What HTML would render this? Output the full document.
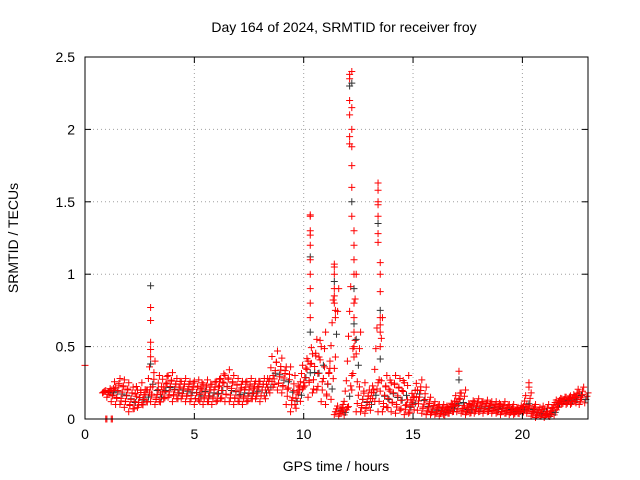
<!DOCTYPE html>
<html><head><meta charset="utf-8"><style>
body{margin:0;background:#fff}
svg{display:block;font-family:"Liberation Sans",sans-serif}
</style></head><body>
<svg id="chart" width="640" height="480" viewBox="0 0 640 480">
<rect width="640" height="480" fill="#fff"/>
<text x="344" y="32" font-size="14" text-anchor="middle">Day 164 of 2024, SRMTID for receiver froy</text>
<text x="336" y="471" font-size="14" text-anchor="middle">GPS time / hours</text>
<text transform="translate(18,238) rotate(-90)" font-size="14" text-anchor="middle">SRMTID / TECUs</text>
<g id="grid"></g><g id="marks"></g><g id="axes"></g>
</svg>
<script>
const xTicks=[0,5,10,15,20];
const yTicks=[0,0.5,1,1.5,2,2.5];
const yTickLabels=["0","0.5","1","1.5","2","2.5"];
const bandTimes=[1.0,1.2,1.4,1.6,1.8,2.0,2.2,2.4,2.6,2.8,3.0,3.2,3.4,3.6,3.8,4.0,4.2,4.4,4.6,4.8,5.0,5.2,5.4,5.6,5.8,6.0,6.2,6.4,6.6,6.8,7.0,7.2,7.4,7.6,7.8,8.0,8.2,8.4,8.6,8.8,9.0,9.2,9.4,9.6,9.8,10.0,10.2,10.4,10.6,10.8,11.0,11.2,11.4,11.6,11.8,12.0,12.2,12.4,12.6,12.8,13.0,13.2,13.4,13.6,13.8,14.0,14.2,14.4,14.6,14.8,15.0,15.2,15.4,15.6,15.8,16.0,16.2,16.4,16.6,16.8,17.0,17.2,17.4,17.6,17.8,18.0,18.2,18.4,18.6,18.8,19.0,19.2,19.4,19.6,19.8,20.0,20.2,20.4,20.6,20.8,21.0,21.2,21.4,21.6,21.8,22.0,22.2,22.4,22.6,22.8];
const bandLow=[.18,.15,.12,.1,.1,.08,.05,.07,.08,.1,.12,.12,.1,.12,.14,.15,.12,.14,.14,.12,.12,.1,.13,.1,.12,.1,.12,.14,.12,.12,.1,.12,.1,.12,.14,.14,.12,.16,.2,.22,.2,.18,.1,.05,.1,.2,.22,.15,.18,.2,.12,.1,.35,.03,.02,.05,.4,.2,.05,.05,.04,.1,.2,.05,.05,.08,.05,.04,.06,.03,.04,.1,.06,.04,.03,.03,.03,.02,.03,.04,.05,.05,.04,.03,.04,.04,.05,.04,.05,.04,.04,.03,.04,.03,.03,.04,.05,.04,.02,.01,.02,.01,.02,.08,.1,.1,.1,.1,.12,.1];
const bandHigh=[.2,.22,.28,.27,.25,.22,.2,.25,.2,.22,.4,.3,.22,.3,.32,.28,.26,.28,.26,.26,.27,.24,.27,.24,.26,.28,.3,.34,.3,.28,.26,.26,.28,.26,.26,.28,.26,.3,.47,.42,.36,.36,.3,.22,.25,.4,.45,.55,.5,.6,.4,.35,.9,.1,.08,.3,1.0,.6,.25,.2,.18,.25,.7,.3,.25,.3,.28,.25,.3,.15,.2,.27,.22,.15,.12,.1,.1,.08,.1,.12,.18,.2,.1,.12,.14,.12,.13,.12,.12,.1,.12,.1,.1,.08,.08,.1,.18,.1,.08,.07,.1,.06,.08,.14,.15,.16,.16,.18,.22,.18];
const spikeTimes=[0,0.95,1.0,1.2,1.25,3,3,3,3,3,3,3,10.3,10.3,10.3,10.3,10.3,10.3,10.3,10.3,10.3,10.3,10.3,10.3,11.4,11.4,11.4,11.4,11.4,11.4,11.4,11.45,11.45,12.1,12.1,12.1,12.1,12.1,12.1,12.1,12.2,12.2,12.2,12.2,12.2,12.2,12.2,12.2,12.2,12.3,12.3,12.3,12.3,12.3,12.3,12.3,12.3,12.3,12.4,12.4,13.4,13.4,13.4,13.4,13.4,13.4,13.4,13.4,13.5,13.5,13.5,13.5,13.5,13.5,13.5,13.5,17.1,17.1,20.3,20.3];
const spikeValues=[.37,0,0,0,0,.92,.77,.68,.53,.48,.43,.38,1.41,1.4,1.3,1.27,1.2,1.12,1.1,1.0,.9,.8,.7,.6,.8,.9,1.0,1.07,1.05,.95,.85,.75,.7,2.38,2.35,2.3,2.2,2.1,1.95,1.9,2.4,2.32,2.15,2.0,1.88,1.75,1.6,1.5,1.4,1.3,1.2,1.1,1.0,.9,.8,.7,.6,.5,.45,.55,1.63,1.58,1.5,1.48,1.4,1.35,1.28,1.22,1.08,1.0,.88,.75,.7,.65,.6,.5,.33,.27,.25,.22];

const L=85,R=588,T=57,B=419,XMAX=23,YMAX=2.5;
const xs=v=>L+(v/XMAX)*(R-L);
const ys=v=>B-(v/YMAX)*(B-T);
const NS="http://www.w3.org/2000/svg";
function mk(tag,parent,attrs){const e=document.createElementNS(NS,tag);for(const k in attrs)e.setAttribute(k,attrs[k]);parent.appendChild(e);return e;}
const grid=document.getElementById('grid'),axes=document.getElementById('axes'),marks=document.getElementById('marks');
xTicks.forEach(t=>{
  if(t>0){const g=mk('line',grid,{x1:xs(t),x2:xs(t),y1:T,y2:B,stroke:'#a0a0a0','stroke-dasharray':'1,3'});
  
  }
  mk('line',axes,{x1:xs(t),x2:xs(t),y1:B,y2:B-6,stroke:'#000'});
  mk('line',axes,{x1:xs(t),x2:xs(t),y1:T,y2:T+6,stroke:'#000'});
  const tx=mk('text',axes,{x:xs(t),y:B+20,'font-size':14,'text-anchor':'middle'});
  tx.textContent=t;
  
  
});
yTicks.forEach((t,i)=>{
  if(t>0&&t<YMAX){const g=mk('line',grid,{x1:L,x2:R,y1:ys(t),y2:ys(t),stroke:'#a0a0a0','stroke-dasharray':'1,3'});
  
  }
  mk('line',axes,{x1:L,x2:L+6,y1:ys(t),y2:ys(t),stroke:'#000'});
  mk('line',axes,{x1:R,x2:R-6,y1:ys(t),y2:ys(t),stroke:'#000'});
  const tx=mk('text',axes,{x:L-10,y:ys(t)+5,'font-size':14,'text-anchor':'end'});
  tx.textContent=yTickLabels[i];
  
  
});
const frame=mk('rect',axes,{x:L,y:T,width:R-L,height:B-T,fill:'none',stroke:'#000'});


function plus(t,v,color,dx){
  const x=xs(t)+dx,y=ys(v);
  const p=mk('path',marks,{d:`M${x-3.5},${y}h7M${x},${y-3.5}v7`,stroke:color,'stroke-width':1});
  
  
}
bandTimes.forEach((t,i)=>{
  const lo=bandLow[i],hi=bandHigh[i],n=8;
  for(let k=0;k<n;k++){
    const v=lo+(hi-lo)*k/(n-1);
    const dx=((k*5)%9-4)*1.1;
    plus(t,v,k%7==3?'#333':'#f00',dx);
  }
});
spikeTimes.forEach((t,i)=>plus(t,spikeValues[i],i%6==5?'#333':'#f00',0));
</script>
</body></html>
